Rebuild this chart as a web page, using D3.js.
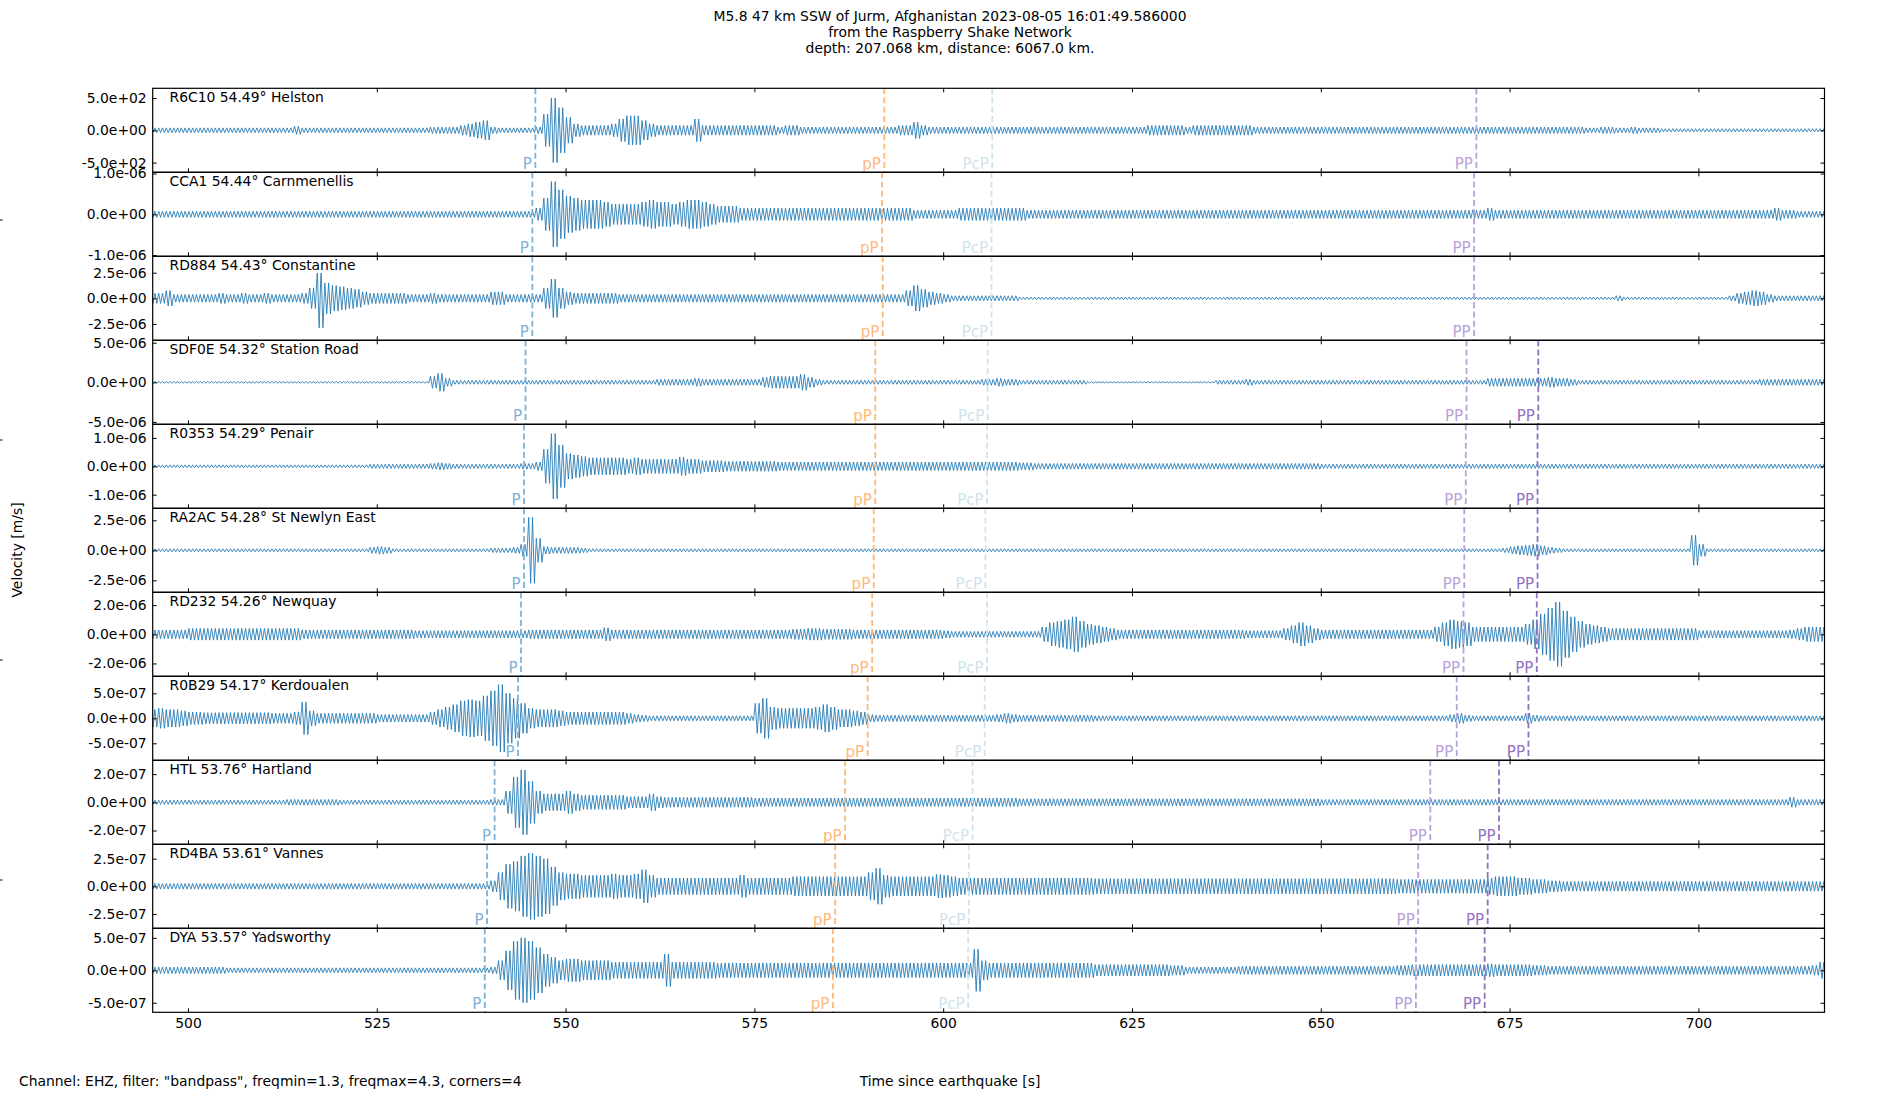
<!DOCTYPE html>
<html>
<head>
<meta charset="utf-8">
<script src="https://cdn.jsdelivr.net/npm/d3@7"></script>
<style>
  body { margin: 0; background: #fff; }
  text { font-family: "DejaVu Sans", sans-serif; }
</style>
</head>
<body>
<div id="container"></div>
<script>
const stations = ["R6C10", "CCA1", "RD884", "SDF0E", "R0353", "RA2AC", "RD232", "R0B29", "HTL", "RD4BA", "DYA"];
const distances = ["54.49", "54.44", "54.43", "54.32", "54.29", "54.28", "54.26", "54.17", "53.76", "53.61", "53.57"];
const places = ["Helston", "Carnmenellis", "Constantine", "Station Road", "Penair", "St Newlyn East", "Newquay", "Kerdoualen", "Hartland", "Vannes", "Yadsworthy"];
const tickValue = [500, 1e-6, 2.5e-6, 5e-6, 1e-6, 2.5e-6, 2e-6, 5e-7, 2e-7, 2.5e-7, 5e-7];
const yLimit = [650, 1.03e-6, 4.1e-6, 5.3e-6, 1.48e-6, 3.5e-6, 2.88e-6, 8.4e-7, 2.98e-7, 3.8e-7, 6.47e-7];
const xTicks = [500, 525, 550, 575, 600, 625, 650, 675, 700];

// arrival times [s] per station
const phaseP   = [546.0, 545.6, 545.6, 544.7, 544.5, 544.5, 544.1, 543.7, 540.6, 539.6, 539.3];
const phasepP  = [592.2, 591.9, 592.0, 591.0, 591.0, 590.8, 590.6, 590.0, 587.0, 585.7, 585.4];
const phasePcP = [606.5, 606.4, 606.4, 605.9, 605.8, 605.6, 605.8, 605.5, 603.9, 603.4, 603.3];
const phasePP  = [670.6, 670.3, 670.3, 669.3, 669.2, 669.0, 668.9, 668.0, 664.5, 662.9, 662.6];
const phasePP2 = [null, null, null, 678.8, 678.7, 678.7, 678.6, 677.5, 673.6, 672.1, 671.7];
const phaseNames = ["P", "pP", "PcP", "PP", "PP"];
const phaseColors = ["#7fb1d6", "#fdb97a", "#cfe3ef", "#b9a1d9", "#9470c0"];

// amplitude envelope per 1 s bin from t = 495 s, in twentieths of the labelled tick
const envStart = 495;
const envR6C10 = [
1.5,1.5,1.5,1.5,1.5,1.5,1.5,1.5,1.5,1.5,
1.5,1.5,1.5,1.5,1.5,1.5,1.5,1.5,1.5,2.5,
1.5,1.5,1.5,1.5,1.5,1.5,1.5,1.5,1.5,1.5,
1.5,1.5,1.5,1.5,1.5,1.5,1.5,2,2,2,
2,3,4,5,6,2,1.5,1.5,1.5,1.5,
1.5,2,10,20,14,8,4,3,3,3,
3,4,7,9,9,6,4,3,3,3,
3,3,7,3,3,3,3,3,3,3,
3,3,3,2,3,3,2,2,2,2,
2,2,2,2,2,2,2,2,2,3,
3,5,3,2,2,2,2,2,2,2,
2,2,2,2,2,2,2,2,2,2,
2,2,2,2,2,2,2,2,2,2,
2,2,3,3,3,3,3,2,3,3,
3,3,3,3,3,3,2,2,2,2,
2,2,2,2,2,2,2,2,2,2,
2,2,2,2,2,2,2,2,2,2,
2,2,2,2,2,2,2,2,2,2,
2,2,2,2,2,2,2,2,2,2,
1.5,1.5,2,2,1.5,1.5,2,1.5,1.5,1.5,
1,1,1,1,1,1,1,1,1,1,
1,1,1,1,1,1,1,1,1,1,1,1];
const envCCA1 = [
1.5,1.5,1.5,1.5,1.5,1.5,1.5,1.5,1.5,1.5,
1.5,1.5,1.5,1.5,1.5,1.5,1.5,1.5,1.5,1.5,
1.5,1.5,1.5,1.5,1.5,1.5,1.5,1.5,1.5,1.5,
1.5,1.5,1.5,1.5,1.5,1.5,1.5,1.5,1.5,1.5,
1.5,1.5,1.5,1.5,1.5,1.5,1.5,1.5,1.5,1.5,
1.5,3,8,16,12,9,8,7,7,7,
6,5,5,5,5,6,7,6,6,5,
6,7,7,6,5,4,4,4,3,3,
3,3,3,3,3,3,3,3,3,3,
3,3,3,3,3,3,3,3,3,3,
3,2,2,2,2,2,2,3,3,3,
3,3,3,3,3,3,2,2,2,2,
2,2,2,2,2,2,2,2,2,2,
2,2,2,2,2,2,2,2,2,2,
2,2,2,2,2,2,2,2,2,2,
2,2,2,2,2,2,2,2,2,2,
2,2,2,2,2,2,2,2,2,2,
2,2,2,2,2,2,2,3,2,2,
2,2,2,2,2,2,2,2,2,2,
2,2,2,2,2,2,2,2,2,2,
2,2,2,2,2,2,2,2,2,2,
2,2,2,2,2,3,2,2,1.5,1.5,1.5,1.5];
const envRD884 = [
4,4,6,3,3,3,3,3,3,4,
3,3,4,3,3,4,3,3,3,3,
4,8,23,12,10,9,8,7,5,4,
4,4,4,4,3,3,3,4,3,3,
3,3,3,3,3,5,5,3,3,3,
3,3,8,15,8,5,4,4,4,4,
4,4,3,3,3,3,3,3,3,3,
3,3,3,3,3,3,3,3,3,3,
3,3,3,3,3,3,3,3,3,3,
3,3,3,3,3,3,3,3,3,3,
6,10,7,5,4,3,2,2,2,2,
2,2,2,2,2,1,1,1,1,1,
1,1,1,1,1,1,1,1,1,1,
1,1,1,1,1,1,1,1,1,1,
1,1,1,1,1,1,1,1,1,1,
1,1,1,1,1,1,1,1,1,1,
1,1,1,1,1,1,1,1,1,1,
1,1,1,1,1,1,1,1,1,1,
1,1,1,1,1,1,1,1,1,1,
1,1,1,1,2,1,1,1,1,1,
1,1,1,1,1,1,1,1,1,2,
4,5,6,5,3,2,2,2,2,2,2,2];
const envSDF0E = [
0.5,0.5,0.5,0.5,0.5,0.5,0.5,0.5,0.5,0.5,
0.5,0.5,0.5,0.5,0.5,0.5,0.5,0.5,0.5,0.5,
0.5,0.5,0.5,0.5,0.5,0.5,0.5,0.5,0.5,0.5,
0.5,0.5,0.5,0.5,0.5,0.5,0.5,3,4.5,2,
1,1,1,1,1,1,1,1,1,1,
1,1,1,1,1,1,1,1,1,1,
1,1,1,1,1,1,1,1.5,1.5,1.5,
1.5,1.5,2,1.5,1.5,1.5,1.5,1.5,1.5,1.5,
1.5,2.5,3,3,3,3,4,2.5,1.5,1,
1,1,1,1,1,1,1,1,1,1,
1,1,1,1,1,1,1,1,1,1,
1.5,1.5,2,1.5,1.5,1,1,1,1,1,
1,1,1,1,0.5,0.3,0.3,0.3,0.3,0.3,
0.3,0.3,0.3,0.3,0.3,0.3,0.3,0.3,0.3,0.3,
0.3,1,1,1,1,1.5,1,1,1,1,
1,1,1,1,1,1,1,1,1,1,
1,1,1,1,1,1,1,1,1,1,
1,1,1,1,1,1,1,2,2,2,
2,2,2,2,2,2.5,2,2,1.5,1,
1,1,1,1,1,1,1,1,1,1,
1,1,1,1,1,1,1,1,1,1,
1,1,1,1.5,1.5,1.5,1.5,1.5,1.5,1.5,1.5,1.5];
const envR0353 = [
1,1,1,1,1,1,1,1,1,1,
1,1,1,1,1,1,1,1,1,1,
1,1,1,1,1,1,1,1,1,1.5,
1.5,1.5,1.5,1.5,1.5,1.5,1.5,2,2.5,2,
1.5,1.5,1.5,1.5,1.5,1.5,1.5,1.5,1.5,2,
2,3,12,23,15,9,8,7,6,6,
6,6,6,5,6,5,5,5,5,5,
6.5,5,5,4,4,4,3.5,3.5,3.5,3.5,
3.5,3.5,3.5,3,3,3,3,3,3,3,
3,3,3,3,3,3,3,3,3,3,
3,3,3,3,3,3,3,3,3,3,
3,3,3,3,3,2.5,2.5,2,2,2,
2,2,2,2,2,2,2,2,2,2,
2,2,2,2,2,2,2,2,2,2,
2,2,2,2,2,2,2,2,2,2,
2,2,2,2,2,1.5,1.5,1.5,1.5,1.5,
1.5,1.5,1.5,1.5,1.5,1.5,1.5,1.5,1.5,1.5,
1.5,1.5,1.5,1.5,1.5,1.5,1.5,1.5,1.5,1.5,
1.5,1.5,1.5,1.5,1.5,1.5,1.5,1.5,1.5,1.5,
1.5,1.5,1.5,1.5,1.5,1.5,1.5,1.5,1.5,1.5,
1.5,1.5,1.5,1.5,1.5,1.5,1.5,1.5,1.5,1.5,
1.5,1.5,1.5,1.5,1.5,1.5,1.5,1.5,1.5,1.5,1.5,1.5];
const envRA2AC = [
1,1,1,1,1,1,1,1,1,1,
1,1,1,1,1,1,1,1,1,1,
1,1,1,1,1,1,1,1,1,2,
2.5,2,1,1,1,1,1,1,1,1,
1,1,1,1,1,1.5,1.5,1.5,2,4,
22,8,2.5,2,2,2,2,1.5,1,1,
1,1,1,1,1,1,1,1,1,1,
1,1,1,1,1,1,1,1,1,1,
1,1,1,1,1,1,1,1,1,1,
1,1,1,1,1,1,1,1,1,1,
1,1,1,1,1,1,1,1,1,1,
1,1,1,1,1,1,1,1,1,1,
1,1,1,1,1,1,1,1,1,1,
1,1,1,1,1,1,1,1,1,1,
1,1,1,1,1,1,1,1,1,1,
1,1,1,1,1,1,1,1,1,1,
1,1,1,1,1,1,1,1,1,1,
1,1,1,1,1,1,1,1,1,1.5,
2.5,3,3.5,4,3,2,1.5,1,1,1,
1,1,1,1,1,1,1,1,1,1,
1,1,1,1,10,4,1,1,1,1,
1,1,1,1,1,1,1,1,1,1,1,1];
const envRD232 = [
3,3,3,3,3,4,4,4,4,4,
4,4,4,4,4,4,4,4,4,4,
3,3,3,3,3,3,3,3,3,3,
3,3,3,3,3,2.5,2.5,2.5,2.5,2.5,
2.5,2.5,2.5,2.5,2.5,2.5,2.5,2.5,2.5,2.5,
3,3,3,3,3,3,3,3,3,3,
4.5,3,3,3,3,3,3,3,3,3,
3,3,3,3,3,3,3,3,3,3,
3,3,3,3,3,3.5,3.5,4,4,3.5,
3.5,3.5,3.5,3,3,3,3,3,3,3,
3,3,3,3,3,2.5,2,2,2,2,
2,2,2,2,2,2,2,2,5,8,
9,10,12,9,7,6,5,4,3,3,
3,3,3,3,3,3,3,3,3,3,
3,3,3,3,3,2.5,2.5,2.5,2.5,2.5,
4,6,8,6,4,3,3,3,3,3,
3,3,3,3,3,3,3,3,3,3,
5,8,10,9,8,5,5,5,5,5,
5,5,7,10,14,18,22,16,12,9,
7,6,5,4,4,4,4,4,4,4,
4,4,4,4,4,2.5,2.5,2.5,2.5,2.5,
2.5,2.5,2.5,2.5,2.5,2.5,2.5,3,4,5,5,5];
const envR0B29 = [
7,8,7,7,6,5,5,4.5,4.5,4.5,
4.5,4.5,4.5,4.5,4.5,4.5,4,4,4,5,
13,6,4,4,4,4,4,4,4,4,
3,3,3,3,3,3,3,5,7,9,
11,14,15,14,18,22,27,20,16,12,
8,7,7,7,6,5,5,5,5,5,
5,5,5,4,3,2.5,2,2,2,2,
2,2,2,2,2,2,2,2,2,2,
12,16,9,8,8,8,8,8,9,11,
9,7,7,6,5,3,2.5,2.5,2.5,2.5,
2.5,2.5,2.5,2.5,2.5,2.5,2.5,2.5,2.5,2.5,
2.5,2.5,3,4,3,2.5,2.5,2.5,2.5,2.5,
2.5,2.5,2.5,2.5,2.5,2,2,2,2,2,
2,2,2,2,2,2,2,2,2,2,
2,2,2,2,2,2,2,2,2,2,
2,2,2,2,2,2,2,2,2,2,
2,2,2,2,2,2,2,2,2,2,
2,2,3,4,2.5,2,2,2,2,2,
2,2,4,2.5,2,2,2,2,2,2,
2,2,2,2,2,2,2,2,2,2,
2,2,2,2,2,2,2,2,2,2,
2,2,2,2,2,2,2,2,2,2,2,2];
const envHTL = [
1.5,1.5,1.5,1.5,1.5,1.5,1.5,1.5,1.5,1.5,
1.5,1.5,1.5,1.5,1.5,1.5,1.5,1.5,2,2,
2,2,2,2,2,1.5,1.5,1.5,1.5,1.5,
1.5,1.5,1.5,1.5,1.5,1.5,1.5,1.5,1.5,1.5,
1.5,1.5,1.5,1.5,1.5,2,2,8,18,23,
15,8,6,6,6,8,6,5,5,5,
5,5,5,4,4,4,6,4,3.5,3.5,
3.5,3.5,3.5,3.5,3.5,3.5,3.5,3.5,3.5,3.5,
3,3,3,3,3,3,3,3,3,3,
3,3,3,3,3,3,3,3,3,3,
3,3,3,3,3,3,3,3,3,3,
3,3,3,3,3,2.5,2.5,2.5,2.5,2.5,
2.5,2.5,2.5,2.5,2.5,2.5,2.5,2.5,2.5,2.5,
2.5,2.5,2.5,2.5,2.5,2.5,2.5,2.5,2.5,2.5,
2.5,2.5,2.5,2.5,2.5,2.5,2.5,2.5,2.5,2.5,
2.5,2.5,2.5,2.5,2.5,2,2,2,2,2,
2,2,2,2,2,2,2,2,2,2,
2,2,2,2,2,2,2,2,2,2,
2,2,2,2,2,2,2,2,2,2,
2,2,2,2,2,2,2,2,2,2,
2,2,2,2,2,2,2,2,2,2,
2,2,2,2,2,2,2,3.5,2,2,2,2];
const envRD4BA = [
2,2,2,2,2,2,2,2,2,2,
2,2,2,2,2,2,2,2,2,2,
2,2,2,2,2,2,2,2,2,2,
2,2,2,2,2,2,2,2,2,2,
2,2,2,2,2,4,10,16,18,22,
24,22,20,14,10,9,9,8,8,8,
8,9,8,8,9,12,8,6,6,6,
6,6,6,6,6,6,6,6,8,6,
6,6,6,6,6,7,7,7,7,7,
7,7,7,7,7,10,13,8,7,7,
7,7,7,7,8.5,8,7,6,6,6,
6,6,6,6,6,6,6,6,6,6,
6,6,6,6,6,5.5,5.5,5.5,5.5,5.5,
5.5,5.5,5.5,5.5,5.5,5.5,5.5,5.5,5.5,5.5,
5.5,5.5,5.5,5.5,5.5,5.5,5.5,5.5,5.5,5.5,
5.5,5.5,5.5,5.5,5.5,5.5,5.5,5.5,5.5,5.5,
5.5,5.5,5.5,5.5,5.5,5,5,5,5,5,
5,5,5,5,5,5,5,6,7,7,
7,6,6,5,5,4,4,3.5,3.5,3.5,
3.5,3.5,3.5,3.5,3.5,3.5,3.5,3.5,3.5,3.5,
3.5,3.5,3.5,3.5,3.5,3.5,3.5,3.5,3.5,3.5,
3.5,3.5,3.5,3.5,3.5,3.5,3.5,3.5,3.5,3.5,3.5,3.5];
const envDYA = [
2,2,2,2,2,2,2,2,2,2,
1.5,1.5,1.5,1.5,1.5,1.5,1.5,1.5,1.5,1.5,
1.5,1.5,1.5,1.5,1.5,1.5,1.5,1.5,1.5,1.5,
1.5,1.5,1.5,1.5,1.5,1.5,1.5,1.5,1.5,1.5,
1.5,1.5,1.5,1.5,1.5,2,6,12,18,20,
18,14,10,8,6,7,7,6,6,6,
6,5,5,5,5,5,5,5,10,5,
5,5,5,5,5,4.5,4.5,4.5,4.5,4.5,
4.5,4.5,4.5,4.5,4.5,4.5,4.5,4.5,4.5,4.5,
4.5,4.5,4.5,4.5,4.5,4.5,4.5,4.5,4.5,4.5,
4.5,4.5,4.5,4.5,4.5,4.5,4.5,4.5,4.5,13,
6,4.5,4.5,4.5,4.5,4.5,4.5,4.5,4.5,4.5,
4.5,4.5,4.5,4.5,4.5,3.5,3.5,3.5,3.5,3.5,
3.5,3.5,3.5,3.5,3.5,3,3,2,2,2,
2,2,2,2,2.5,2.5,2.5,2.5,2.5,2.5,
2.5,2.5,2.5,2.5,2.5,2.5,2.5,2.5,2.5,2.5,
2.5,2.5,2.5,2.5,2.5,3,3,3.5,3.5,3.5,
3.5,3.5,3.5,3.5,3.5,3.5,3.5,4,3.5,3.5,
3.5,3.5,3.5,3,3,2.5,2.5,2.5,2.5,2.5,
2.5,2.5,2.5,2.5,2.5,2.5,2.5,2.5,2.5,2.5,
2.5,2.5,2.5,2.5,2.5,2.5,2.5,2.5,2.5,2.5,
2.5,2.5,2.5,2.5,2.5,2.5,2.5,2.5,2.5,2.5,3,5];

const envelopes = [envR6C10, envCCA1, envRD884, envSDF0E, envR0353, envRA2AC, envRD232, envR0B29, envHTL, envRD4BA, envDYA];
const phaseTimes = [phaseP, phasepP, phasePcP, phasePP, phasePP2];

const titleLines = [
  "M5.8 47 km SSW of Jurm, Afghanistan 2023-08-05 16:01:49.586000",
  "from the Raspberry Shake Network",
  "depth: 207.068 km, distance: 6067.0 km."
];
const footerText = 'Channel: EHZ, filter: "bandpass", freqmin=1.3, freqmax=4.3, corners=4';

const width = 1900, height = 1100;
const plotLeft = 152.7, plotRight = 1824.5, plotTop = 88.3, panelH = 84;
const fontSize = 13.9;
const peaksPerSecond = 4;

const x = d3.scaleLinear().domain([495.33, 716.7]).range([plotLeft, plotRight]);

const sci = v => v.toExponential(1).replace(/e([+-])(\d)$/, "e$10$2");

// each 1 s bin is drawn as alternating peaks at its read amplitude
const tracePoints = (env, unit) => {
  const pts = [];
  env.forEach((a, i) => {
    for (let j = 0; j < peaksPerSecond; j++) {
      const k = i * peaksPerSecond + j;
      pts.push([envStart + i + (j + 0.5) / peaksPerSecond, (k % 2 ? -1 : 1) * a * unit]);
    }
  });
  return pts;
};

const svg = d3.select("#container").append("svg")
  .attr("width", width)
  .attr("height", height)
  .style("background", "#fff");

const defs = svg.append("defs");

svg.append("g")
  .attr("font-size", fontSize)
  .attr("text-anchor", "middle")
  .selectAll("text")
  .data(titleLines)
  .join("text")
  .attr("x", width / 2)
  .attr("y", (d, i) => 21.3 + i * 16)
  .text(d => d);

stations.forEach((name, i) => {
  const y0 = plotTop + i * panelH, y1 = y0 + panelH;
  const y = d3.scaleLinear().domain([-yLimit[i], yLimit[i]]).range([y1, y0]);
  const g = svg.append("g");

  defs.append("clipPath").attr("id", "clip" + i)
    .append("rect").attr("x", plotLeft).attr("y", y0).attr("width", plotRight - plotLeft).attr("height", panelH);

  const line = d3.line().x(d => x(d[0])).y(d => y(d[1]));
  g.append("path")
    .datum(tracePoints(envelopes[i], tickValue[i] / 20))
    .attr("clip-path", `url(#clip${i})`)
    .attr("fill", "none")
    .attr("stroke", "#1f77b4")
    .attr("stroke-width", 0.85)
    .attr("stroke-linejoin", "round")
    .attr("d", line);

  phaseTimes.forEach((times, k) => {
    const t = times[i];
    if (t == null) return;
    g.append("line")
      .attr("x1", x(t)).attr("x2", x(t))
      .attr("y1", y0).attr("y2", y1)
      .attr("stroke", phaseColors[k])
      .attr("stroke-width", 1.8)
      .attr("stroke-dasharray", "6,3.2");
    g.append("text")
      .attr("x", x(t) - 3.5)
      .attr("y", y1 - 3)
      .attr("text-anchor", "end")
      .attr("font-size", 15)
      .attr("fill", phaseColors[k])
      .text(phaseNames[k]);
  });

  const isLast = i === stations.length - 1;
  const styleAxis = sel => {
    sel.select(".domain").remove();
    sel.attr("font-size", fontSize).attr("font-family", '"DejaVu Sans", sans-serif');
    sel.selectAll("text").attr("fill", "#000");
  };

  g.append("g")
    .attr("transform", `translate(0,${y1})`)
    .call(d3.axisBottom(x).tickValues(xTicks).tickSize(-4).tickPadding(6)
      .tickFormat(isLast ? d3.format("d") : ""))
    .call(styleAxis);
  g.append("g")
    .attr("transform", `translate(0,${y0})`)
    .call(d3.axisTop(x).tickValues(xTicks).tickSize(-4).tickFormat(""))
    .call(styleAxis);
  g.append("g")
    .attr("transform", `translate(${plotLeft},0)`)
    .call(d3.axisLeft(y).tickValues([-tickValue[i], 0, tickValue[i]]).tickSize(-4).tickPadding(6).tickFormat(sci))
    .call(styleAxis);
  g.append("g")
    .attr("transform", `translate(${plotRight},0)`)
    .call(d3.axisRight(y).tickValues([-tickValue[i], 0, tickValue[i]]).tickSize(-4).tickFormat(""))
    .call(styleAxis);

  g.append("rect")
    .attr("x", plotLeft).attr("y", y0)
    .attr("width", plotRight - plotLeft).attr("height", panelH)
    .attr("fill", "none")
    .attr("stroke", "#000")
    .attr("stroke-width", 1.2);

  const label = g.append("g");
  const box = label.append("rect").attr("fill", "#fff");
  const txt = label.append("text")
    .attr("x", 169.5)
    .attr("y", y0 + 13.4)
    .attr("font-size", fontSize)
    .text(`${name} ${distances[i]}° ${places[i]}`);
  const w = txt.node().getComputedTextLength();
  box.attr("x", 166).attr("y", y0 + 0.8).attr("width", w + 7).attr("height", 16);
});

svg.append("text")
  .attr("transform", `translate(22,${height / 2}) rotate(-90)`)
  .attr("text-anchor", "middle")
  .attr("font-size", fontSize)
  .text("Velocity [m/s]");

svg.append("text")
  .attr("x", 19)
  .attr("y", 1085.7)
  .attr("font-size", fontSize)
  .text(footerText);

svg.append("text")
  .attr("x", width / 2)
  .attr("y", 1085.7)
  .attr("text-anchor", "middle")
  .attr("font-size", fontSize)
  .text("Time since earthquake [s]");

svg.append("g")
  .selectAll("line")
  .data([0.2, 0.4, 0.6, 0.8])
  .join("line")
  .attr("x1", 0).attr("x2", 2.5)
  .attr("y1", d => height * d).attr("y2", d => height * d)
  .attr("stroke", "#000")
  .attr("stroke-width", 1);
</script>
</body>
</html>
